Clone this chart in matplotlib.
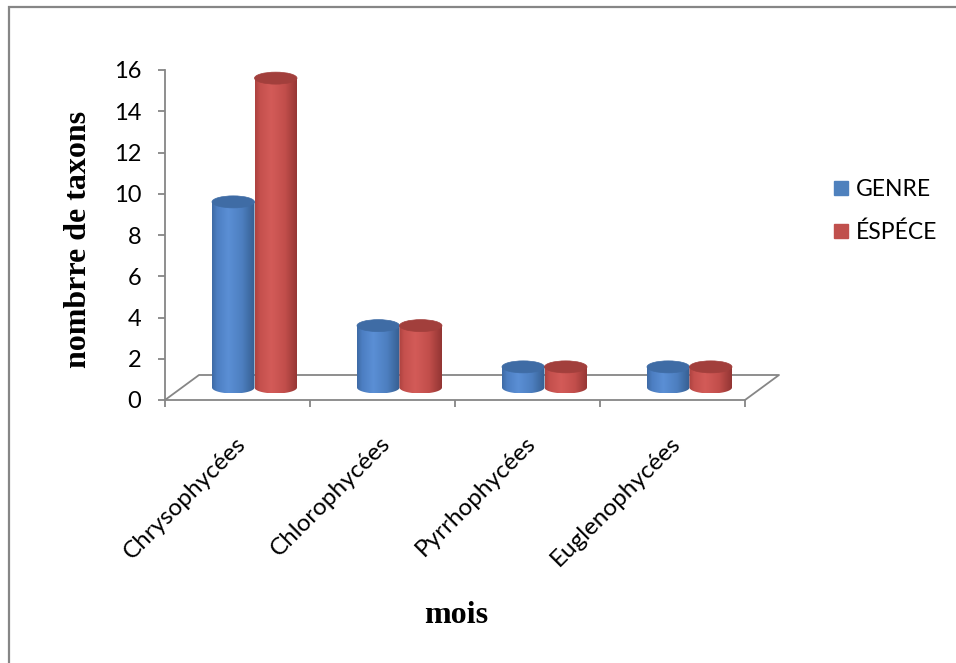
import numpy as np
import matplotlib
matplotlib.use('Agg')
import matplotlib.pyplot as plt
from matplotlib.patches import Ellipse, PathPatch, Rectangle
from matplotlib.path import Path
from matplotlib.colors import LinearSegmentedColormap
from matplotlib.lines import Line2D

# ---------------- data ----------------
categories = ['Chrysophycées', 'Chlorophycées', 'Pyrrhophycées', 'Euglenophycées']
genre = [9, 3, 1, 1]
espece = [15, 3, 1, 1]
series_names = ['GENRE', 'ÉSPÉCE']
yticks = [0, 2, 4, 6, 8, 10, 12, 14, 16]
xlabel = 'mois'
ylabel = 'nombrre de taxons'

# ---------------- style ----------------
W, H = 956, 663
SANS = ['Lato', 'DejaVu Sans']
SERIF = ['Liberation Serif', 'DejaVu Serif']
GRAY = '#868686'

blue_cmap = LinearSegmentedColormap.from_list(
    'b', [(0, '#3E6AA4'), (0.12, '#4C7EC2'), (0.38, '#5B8FD5'),
          (0.7, '#4D7FC0'), (1.0, '#355E90')])
red_cmap = LinearSegmentedColormap.from_list(
    'r', [(0, '#AC423F'), (0.12, '#C5504D'), (0.38, '#D35B58'),
          (0.7, '#C24E4B'), (1.0, '#923533')])
blue_top = '#3F6CA5'
red_top = '#A23F3C'
blue_leg = '#4F81BD'
red_leg = '#C0504D'

fig = plt.figure(figsize=(W / 100, H / 100), dpi=100)
ax = fig.add_axes([165 / W, 1 - 400 / H, 580 / W, 330 / H])

px_x = 580 / 4.0
px_y = 330 / 16.0
floor_dx = 34 / px_x
floor_dy = 25 / px_y
cyl_w = 42.5 / px_x
ell_h = 12 / px_y


def cylinder(cx, val, cmap, topcol):
    base = floor_dy / 2
    top = base + val
    x0, x1 = cx - cyl_w / 2, cx + cyl_w / 2
    t = np.linspace(np.pi, 2 * np.pi, 80)
    bx = cx + cyl_w / 2 * np.cos(t)
    by = base + ell_h / 2 * np.sin(t)
    verts = [(x0, top)] + list(zip(bx, by)) + [(x1, top), (x0, top)]
    codes = [Path.MOVETO] + [Path.LINETO] * (len(verts) - 2) + [Path.CLOSEPOLY]
    patch = PathPatch(Path(verts, codes), fc='none', ec='none', zorder=3)
    ax.add_patch(patch)
    grad = np.linspace(0, 1, 256).reshape(1, -1)
    im = ax.imshow(grad, cmap=cmap, extent=[x0, x1, base - ell_h / 2, top],
                   aspect='auto', zorder=3, interpolation='bilinear')
    im.set_clip_path(patch)
    ax.add_patch(Ellipse((cx, top), cyl_w, ell_h, fc=topcol, ec=topcol,
                         lw=0.5, zorder=4))


# floor outline (back part)
ax.plot([0, floor_dx, 4 + floor_dx, 4], [0, floor_dy, floor_dy, 0],
        color=GRAY, lw=1.3, clip_on=False, zorder=1)

for i in range(len(categories)):
    c = i + 0.5 + floor_dx / 2
    cylinder(c - cyl_w / 2, genre[i], blue_cmap, blue_top)
    cylinder(c + cyl_w / 2, espece[i], red_cmap, red_top)

ax.set_xlim(0, 4)
ax.set_ylim(0, 16)
for s in ['top', 'right']:
    ax.spines[s].set_visible(False)
for s in ['left', 'bottom']:
    ax.spines[s].set_color(GRAY)
    ax.spines[s].set_linewidth(1.3)

ax.set_yticks(yticks)
ax.set_yticklabels([str(v) for v in yticks], fontfamily=SANS, fontsize=17)
ax.tick_params(axis='y', direction='out', length=5, width=1.3, color=GRAY, pad=12)
ax.set_xticks(range(len(categories) + 1))
ax.set_xticklabels([])
ax.tick_params(axis='x', direction='out', length=5, width=1.3, color=GRAY)

for i, cat in enumerate(categories):
    ax.text(i + 0.5 + 5 / px_x, -40 / 330, cat, transform=ax.get_xaxis_transform(),
            rotation=45, rotation_mode='anchor', ha='right', va='center',
            fontfamily=SANS, fontsize=17.5)

fig.text(456 / W, 1 - 623 / H, xlabel, ha='center', va='baseline',
         fontfamily=SERIF, fontweight='bold', fontsize=23)
fig.text(79 / W, 1 - 239 / H, ylabel, ha='center', va='center', rotation=90,
         fontfamily=SERIF, fontweight='bold', fontsize=23)

handles = [Line2D([], [], marker='s', ls='', markersize=10, color=blue_leg),
           Line2D([], [], marker='s', ls='', markersize=10, color=red_leg)]
fig.legend(handles, series_names, loc='center left',
           bbox_to_anchor=(830 / W, 1 - 211 / H), frameon=False,
           prop={'family': SANS, 'size': 16.5}, handlelength=1.0,
           handletextpad=0.15, labelspacing=0.95, borderpad=0, borderaxespad=0)

# outer frame (only top and left visible in the reference crop)
fig.add_artist(Rectangle((9 / W, -0.1), 1.2, 1.1 - 7 / H, transform=fig.transFigure,
                         fill=False, ec=GRAY, lw=1.6))

fig.savefig('out.png', dpi=100, facecolor='white')
